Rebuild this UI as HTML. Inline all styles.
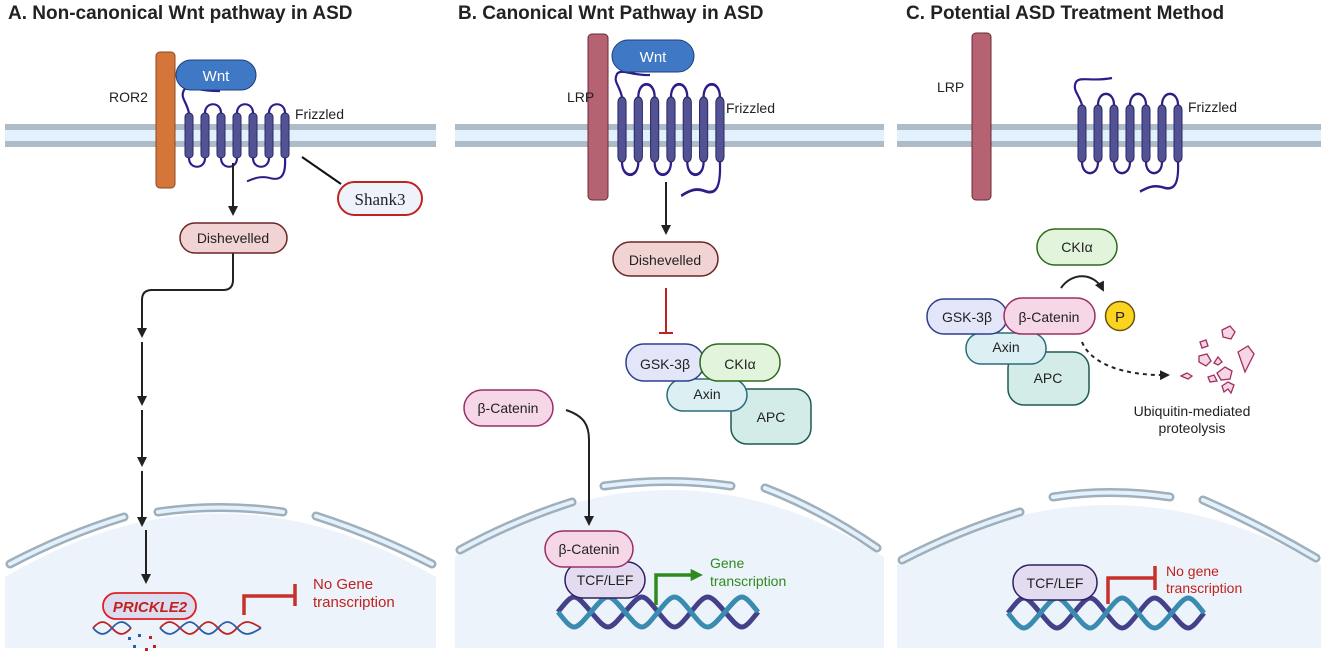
<!DOCTYPE html>
<html><head><meta charset="utf-8"><style>
body{margin:0;background:#fff;}
svg{display:block;font-family:"Liberation Sans",sans-serif;}
</style></head><body>
<svg width="1325" height="657" viewBox="0 0 1325 657" xmlns="http://www.w3.org/2000/svg">
<defs>
<marker id="ah" viewBox="0 0 10 10" refX="8" refY="5" markerWidth="5" markerHeight="5" orient="auto"><path d="M0,0 L10,5 L0,10z" fill="#222"/></marker>
<marker id="ahg" viewBox="0 0 10 10" refX="6" refY="5" markerWidth="3.5" markerHeight="3.5" orient="auto"><path d="M0,0 L10,5 L0,10z" fill="#2e8b1e"/></marker>
<g id="fz">
<g fill="none" stroke="#2c1d8a" stroke-width="2.2">
<path d="M16,0 C16,-13 32,-13 32,0 M48,0 C48,-13 64,-13 64,0 M80,0 C80,-13 96,-13 96,0"/>
<path d="M0,50 C0,63 16,63 16,50 M32,50 C32,63 48,63 48,50 M64,50 C64,63 80,63 80,50"/>
<path d="M96,50 C97,70 92,76 80,72 C72,70 66,72 58,76"/>
</g>
<g fill="#525294" stroke="#2a2a66" stroke-width="1">
<rect x="-4" y="0" width="8" height="50" rx="4"/><rect x="12" y="0" width="8" height="50" rx="4"/><rect x="28" y="0" width="8" height="50" rx="4"/><rect x="44" y="0" width="8" height="50" rx="4"/><rect x="60" y="0" width="8" height="50" rx="4"/><rect x="76" y="0" width="8" height="50" rx="4"/><rect x="92" y="0" width="8" height="50" rx="4"/>
</g>
</g>
<g id="dna">
<path d="M0,12 C16,-8 16,-8 33,12 S50,32 67,12 S84,-8 100,12 S117,32 133,12 S150,-8 167,12 S184,32 200,12" fill="none" stroke="#43418a" stroke-width="5"/>
<path d="M0,12 C16,32 16,32 33,12 S50,-8 67,12 S84,32 100,12 S117,-8 133,12 S150,32 167,12 S184,-8 200,12" fill="none" stroke="#3a8bb0" stroke-width="5"/>
</g>
</defs>

<g font-weight="bold" font-size="19" fill="#222">
<text x="8" y="19">A. Non-canonical Wnt pathway in ASD</text>
<text x="458" y="19">B. Canonical Wnt Pathway in ASD</text>
<text x="906" y="19">C. Potential ASD Treatment Method</text>
</g>

<g>
<rect x="5" y="124" width="431" height="23" fill="#e2f1fd"/><rect x="5" y="124" width="431" height="6" fill="#aebcc7"/><rect x="5" y="141" width="431" height="6" fill="#aebcc7"/>
<rect x="455" y="124" width="429" height="23" fill="#e2f1fd"/><rect x="455" y="124" width="429" height="6" fill="#aebcc7"/><rect x="455" y="141" width="429" height="6" fill="#aebcc7"/>
<rect x="897" y="124" width="424" height="23" fill="#e2f1fd"/><rect x="897" y="124" width="424" height="6" fill="#aebcc7"/><rect x="897" y="141" width="424" height="6" fill="#aebcc7"/>
</g>

<g fill="#edf3fb">
<path d="M5,577 Q220,450 436,577 L436,648 L5,648Z"/>
<path d="M455,557 Q670,423 884,557 L884,648 L455,648Z"/>
<path d="M897,565 Q1110,445 1321,565 L1321,648 L897,648Z"/>
</g>
<g fill="none" stroke-linecap="round">
<g stroke="#9fb0bb" stroke-width="9">
<path d="M10,564 Q65,535 124,517"/><path d="M158,512 Q220,503 283,512"/><path d="M316,516 Q375,535 432,564"/>
<path d="M460,550 Q515,520 572,502"/><path d="M604,486 Q668,477 731,486"/><path d="M765,488 Q822,510 877,548"/>
<path d="M902,560 Q960,530 1020,512"/><path d="M1053,497 Q1110,488 1170,497"/><path d="M1203,500 Q1260,525 1316,558"/>
</g>
<g stroke="#e2f1fd" stroke-width="4">
<path d="M10,564 Q65,535 124,517"/><path d="M158,512 Q220,503 283,512"/><path d="M316,516 Q375,535 432,564"/>
<path d="M460,550 Q515,520 572,502"/><path d="M604,486 Q668,477 731,486"/><path d="M765,488 Q822,510 877,548"/>
<path d="M902,560 Q960,530 1020,512"/><path d="M1053,497 Q1110,488 1170,497"/><path d="M1203,500 Q1260,525 1316,558"/>
</g>
</g>

<!-- Panel A -->
<rect x="156" y="52" width="19" height="136" rx="4" fill="#d4753a" stroke="#8a4a20"/>
<text x="109" y="102" font-size="14" fill="#222">ROR2</text>
<path d="M189,113 C186,100 180,98 184,90 C188,84 200,92 220,91" fill="none" stroke="#2c1d8a" stroke-width="2.2"/>
<use href="#fz" transform="translate(189,113) scale(1,0.9)"/>
<rect x="176" y="60" width="80" height="30" rx="15" fill="#3f78c4" stroke="#1c3f80"/>
<text x="216" y="81" font-size="15" fill="#fff" text-anchor="middle">Wnt</text>
<text x="295" y="119" font-size="14" fill="#222">Frizzled</text>
<line x1="302" y1="157" x2="341" y2="184" stroke="#111" stroke-width="2"/>
<rect x="338" y="182" width="84" height="33" rx="16.5" fill="#eef3fb" stroke="#c0221f" stroke-width="2"/>
<text x="380" y="205" font-size="17" fill="#222" text-anchor="middle" font-family="Liberation Serif,serif">Shank3</text>
<g stroke="#222" stroke-width="2" fill="none" marker-end="url(#ah)">
<line x1="233" y1="163" x2="233" y2="214"/>
<path d="M233,253 L233,280 Q233,290 223,290 L152,290 Q142,290 142,300 L142,336"/>
<line x1="142" y1="342" x2="142" y2="404"/>
<line x1="142" y1="410" x2="142" y2="465"/>
<line x1="142" y1="471" x2="142" y2="525"/>
<line x1="146" y1="530" x2="146" y2="582"/>
</g>
<rect x="180" y="223" width="107" height="30" rx="15" fill="#f1d3d3" stroke="#6a2525" stroke-width="1.5"/>
<text x="233" y="243" font-size="14" fill="#222" text-anchor="middle">Dishevelled</text>
<g fill="none" stroke-width="1.8">
<path d="M93,628 C100,620 105,620 112,628 S124,636 131,628" stroke="#c0221f"/>
<path d="M93,628 C100,636 105,636 112,628 S124,620 131,628" stroke="#2a5ea8"/>
<path d="M160,628 C167,620 172,620 180,628 S192,636 199,628 S211,620 218,628 S230,636 237,628 S249,620 261,628" stroke="#c0221f"/>
<path d="M160,628 C167,636 172,636 180,628 S192,620 199,628 S211,636 218,628 S230,620 237,628 S249,636 261,628" stroke="#2a5ea8"/>
</g>
<g fill="#2a5ea8"><rect x="128" y="637" width="3" height="3"/><rect x="138" y="634" width="3" height="3"/><rect x="133" y="645" width="3" height="3"/></g>
<g fill="#c0221f"><rect x="149" y="636" width="3" height="3"/><rect x="153" y="645" width="3" height="3"/><rect x="145" y="648" width="3" height="3"/><rect x="143" y="614" width="3" height="3"/><rect x="152" y="612" width="3" height="3"/></g>
<rect x="103" y="593" width="93" height="26" rx="13" fill="#dcdcf0" stroke="#e02020" stroke-width="1.8"/>
<text x="150" y="612" font-size="15" fill="#c0221f" text-anchor="middle" font-weight="bold" font-style="italic">PRICKLE2</text>
<path d="M244,615 L244,596 L294,596 M295,584 L295,606" fill="none" stroke="#c8312b" stroke-width="3.5"/>
<text x="313" y="589" font-size="15" fill="#c0221f">No Gene</text>
<text x="313" y="607" font-size="15" fill="#c0221f">transcription</text>

<!-- Panel B -->
<rect x="588" y="34" width="20" height="166" rx="4" fill="#b56272" stroke="#6a2a38"/>
<text x="567" y="102" font-size="14" fill="#222">LRP</text>
<path d="M622,97 C619,84 613,82 617,74 C621,68 633,76 650,75" fill="none" stroke="#2c1d8a" stroke-width="2.2"/>
<use href="#fz" transform="translate(622,97) scale(1.02,1.3)"/>
<rect x="612" y="40" width="82" height="32" rx="16" fill="#3f78c4" stroke="#1c3f80"/>
<text x="653" y="62" font-size="15" fill="#fff" text-anchor="middle">Wnt</text>
<text x="726" y="113" font-size="14" fill="#222">Frizzled</text>
<line x1="666" y1="182" x2="666" y2="233" stroke="#222" stroke-width="2" marker-end="url(#ah)"/>
<rect x="613" y="242" width="105" height="34" rx="17" fill="#f1d3d3" stroke="#6a2525" stroke-width="1.5"/>
<text x="665" y="265" font-size="14" fill="#222" text-anchor="middle">Dishevelled</text>
<path d="M666,288 L666,333 M659,333 L673,333" stroke="#c0221f" stroke-width="2" fill="none"/>
<rect x="731" y="389" width="80" height="55" rx="16" fill="#d3ece8" stroke="#1e5b50" stroke-width="1.5"/>
<rect x="667" y="379" width="80" height="32" rx="16" fill="#dcf0f4" stroke="#2a6d7a" stroke-width="1.5"/>
<rect x="626" y="344" width="78" height="37" rx="18" fill="#e2e6f8" stroke="#2d3e8e" stroke-width="1.5"/>
<rect x="700" y="344" width="80" height="37" rx="18" fill="#e2f4dc" stroke="#2d6a1c" stroke-width="1.5"/>
<text x="665" y="369" font-size="14" fill="#222" text-anchor="middle">GSK-3β</text>
<text x="740" y="369" font-size="14" fill="#222" text-anchor="middle">CKIα</text>
<text x="707" y="399" font-size="14" fill="#222" text-anchor="middle">Axin</text>
<text x="771" y="422" font-size="14" fill="#222" text-anchor="middle">APC</text>
<rect x="464" y="390" width="89" height="36" rx="18" fill="#f6d7e7" stroke="#9a2e63" stroke-width="1.5"/>
<text x="508" y="413" font-size="14" fill="#222" text-anchor="middle">β-Catenin</text>
<path d="M566,410 C584,416 589,425 589,440 L589,524" fill="none" stroke="#222" stroke-width="2" marker-end="url(#ah)"/>
<use href="#dna" transform="translate(558,600)"/>
<path d="M656,605 L656,575 L698,575" fill="none" stroke="#2e8b1e" stroke-width="3.5" marker-end="url(#ahg)"/>
<text x="710" y="568" font-size="14" fill="#2e8b1e">Gene</text>
<text x="710" y="586" font-size="14" fill="#2e8b1e">transcription</text>
<rect x="565" y="562" width="80" height="36" rx="18" fill="#e3dcf0" stroke="#2e2060" stroke-width="1.5"/>
<text x="605" y="585" font-size="14" fill="#222" text-anchor="middle">TCF/LEF</text>
<rect x="545" y="531" width="88" height="36" rx="18" fill="#f6d7e7" stroke="#9a2e63" stroke-width="1.5"/>
<text x="589" y="554" font-size="14" fill="#222" text-anchor="middle">β-Catenin</text>

<!-- Panel C -->
<rect x="972" y="33" width="19" height="167" rx="4" fill="#b56272" stroke="#6a2a38"/>
<text x="937" y="92" font-size="14" fill="#222">LRP</text>
<path d="M1082,105 C1079,94 1072,90 1076,82 C1080,76 1092,82 1112,78" fill="none" stroke="#2c1d8a" stroke-width="2.2"/>
<use href="#fz" transform="translate(1082,105) scale(1,1.14)"/>
<text x="1188" y="112" font-size="14" fill="#222">Frizzled</text>
<rect x="1037" y="229" width="80" height="36" rx="18" fill="#e2f4dc" stroke="#2d6a1c" stroke-width="1.5"/>
<text x="1077" y="252" font-size="14" fill="#222" text-anchor="middle">CKIα</text>
<path d="M1061,288 C1072,272 1094,272 1103,290" fill="none" stroke="#222" stroke-width="2" marker-end="url(#ah)"/>
<rect x="1008" y="352" width="81" height="53" rx="16" fill="#d3ece8" stroke="#1e5b50" stroke-width="1.5"/>
<rect x="966" y="333" width="80" height="31" rx="15" fill="#dcf0f4" stroke="#2a6d7a" stroke-width="1.5"/>
<rect x="927" y="299" width="80" height="35" rx="17" fill="#e2e6f8" stroke="#2d3e8e" stroke-width="1.5"/>
<rect x="1004" y="298" width="91" height="36" rx="18" fill="#f6d7e7" stroke="#9a2e63" stroke-width="1.5"/>
<circle cx="1120" cy="316" r="14.5" fill="#fad41e" stroke="#6a5210" stroke-width="1.5"/>
<text x="1120" y="322" font-size="15" fill="#222" text-anchor="middle">P</text>
<text x="967" y="322" font-size="14" fill="#222" text-anchor="middle">GSK-3β</text>
<text x="1049" y="322" font-size="14" fill="#222" text-anchor="middle">β-Catenin</text>
<text x="1006" y="352" font-size="14" fill="#222" text-anchor="middle">Axin</text>
<text x="1048" y="383" font-size="14" fill="#222" text-anchor="middle">APC</text>
<path d="M1082,342 C1090,362 1120,376 1168,375" fill="none" stroke="#222" stroke-width="2" stroke-dasharray="4,4" marker-end="url(#ah)"/>
<g fill="#f5d5e6" stroke="#a0305e" stroke-width="1.3">
<path d="M1181,376 l6,-3 l5,3 l-4,3z"/>
<path d="M1200,342 l6,-2 l2,6 l-6,2z"/>
<path d="M1222,330 l8,-4 l5,6 l-4,7 l-8,-2z"/>
<path d="M1199,356 l8,-2 l4,7 l-5,5 l-7,-4z"/>
<path d="M1214,363 l4,-6 l4,5 l-4,3z"/>
<path d="M1217,373 l8,-6 l7,4 l-2,8 l-9,1z"/>
<path d="M1238,352 l10,-6 l6,8 l-9,18z"/>
<path d="M1208,377 l6,-2 l3,6 l-7,1z"/>
<path d="M1222,386 l6,-4 l6,3 l-3,8 l-3,-4 l-4,3z"/>
</g>
<text x="1192" y="416" font-size="14" fill="#222" text-anchor="middle">Ubiquitin-mediated</text>
<text x="1192" y="433" font-size="14" fill="#222" text-anchor="middle">proteolysis</text>
<use href="#dna" transform="translate(1008,601) scale(0.98,1)"/>
<path d="M1108,604 L1108,578 L1155,578 M1155,566 L1155,590" fill="none" stroke="#c8312b" stroke-width="3.5"/>
<text x="1166" y="576" font-size="14" fill="#c0221f">No gene</text>
<text x="1166" y="593" font-size="14" fill="#c0221f">transcription</text>
<rect x="1013" y="565" width="84" height="35" rx="17" fill="#e3dcf0" stroke="#2e2060" stroke-width="1.5"/>
<text x="1055" y="588" font-size="14" fill="#222" text-anchor="middle">TCF/LEF</text>
</svg>
</body></html>
